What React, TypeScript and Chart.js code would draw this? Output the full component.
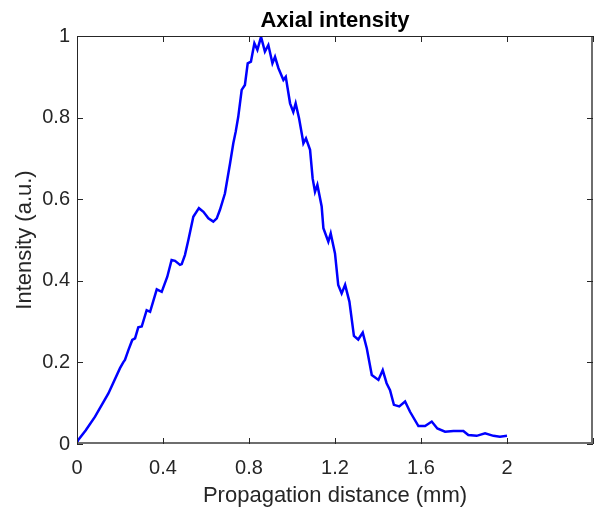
import React, { useEffect, useRef } from "react";
import { Chart, registerables } from "chart.js";

Chart.register(...registerables);

const xValues = [
  0, 0.003, 0.04, 0.084, 0.146, 0.2, 0.215, 0.223, 0.239, 0.257, 0.27, 0.285, 0.301, 0.324, 0.34, 0.371, 0.394,
  0.42, 0.44, 0.456, 0.479, 0.487, 0.502, 0.518, 0.541, 0.567, 0.588, 0.611, 0.634, 0.65, 0.665, 0.688,
  0.712, 0.727, 0.738, 0.75, 0.766, 0.781, 0.794, 0.809, 0.825, 0.839, 0.856, 0.874, 0.89, 0.909,
  0.921, 0.937, 0.96, 0.971, 0.991, 1.006, 1.017, 1.033, 1.048, 1.053, 1.065, 1.084, 1.096, 1.107,
  1.118, 1.138, 1.146, 1.169, 1.18, 1.2, 1.215, 1.231, 1.247, 1.267, 1.288, 1.308, 1.329, 1.348,
  1.371, 1.402, 1.422, 1.44, 1.456, 1.474, 1.499, 1.526, 1.549, 1.588, 1.619, 1.65, 1.676, 1.712,
  1.751, 1.797, 1.82, 1.859, 1.898, 1.937, 1.967, 2.0,
];
const intensity = [
  0.005, 0.008, 0.033, 0.067, 0.124, 0.186, 0.2, 0.206, 0.23, 0.255, 0.259, 0.286, 0.288, 0.328, 0.324, 0.379, 0.373,
  0.41, 0.451, 0.449, 0.439, 0.441, 0.463, 0.5, 0.557, 0.578, 0.569, 0.553, 0.545, 0.553, 0.574, 0.614,
  0.688, 0.737, 0.765, 0.802, 0.868, 0.88, 0.933, 0.937, 0.982, 0.966, 0.998, 0.962, 0.978, 0.933,
  0.949, 0.921, 0.892, 0.9, 0.835, 0.814, 0.835, 0.798, 0.753, 0.737, 0.749, 0.721, 0.651, 0.618,
  0.635, 0.582, 0.529, 0.496, 0.516, 0.467, 0.39, 0.369, 0.39, 0.349, 0.265, 0.256, 0.273, 0.234,
  0.169, 0.157, 0.181, 0.149, 0.132, 0.096, 0.092, 0.104, 0.079, 0.044, 0.044, 0.055, 0.038, 0.03,
  0.032, 0.032, 0.022, 0.02, 0.026, 0.02, 0.018, 0.02,
];
const xTicks = [0, 0.4, 0.8, 1.2, 1.6, 2.0, 2.4];
const yTicks = [0, 0.2, 0.4, 0.6, 0.8, 1];
const titleText = "Axial intensity";
const xLabel = "Propagation distance (mm)";
const yLabel = "Intensity (a.u.)";

const FONT = "'Liberation Sans', Arial, Helvetica, sans-serif";
const AXIS_COLOR = "#262626";

const boxPlugin = {
  id: "matlabBox",
  afterDraw(chart: any) {
    const { ctx, chartArea } = chart;
    const { left, right, top, bottom } = chartArea;
    const xs = chart.scales.x;
    const ys = chart.scales.y;
    ctx.save();
    ctx.strokeStyle = AXIS_COLOR;
    ctx.lineWidth = 1;
    ctx.beginPath();
    ctx.moveTo(left + 0.5, bottom);
    ctx.lineTo(left + 0.5, top + 0.5);
    ctx.lineTo(right, top + 0.5);
    ctx.stroke();
    ctx.strokeStyle = "#6e6e6e";
    ctx.lineWidth = 2;
    ctx.beginPath();
    ctx.moveTo(right - 1, top);
    ctx.lineTo(right - 1, bottom - 1);
    ctx.lineTo(left, bottom - 1);
    ctx.stroke();
    ctx.strokeStyle = AXIS_COLOR;
    ctx.lineWidth = 1;
    const tl = 6;
    ctx.beginPath();
    for (const v of xTicks) {
      const px = Math.round(xs.getPixelForValue(v)) + 0.5;
      ctx.moveTo(px, bottom);
      ctx.lineTo(px, bottom - tl);
      ctx.moveTo(px, top);
      ctx.lineTo(px, top + tl);
    }
    for (const v of yTicks) {
      const py = Math.round(ys.getPixelForValue(v)) + 0.5;
      ctx.moveTo(left, py);
      ctx.lineTo(left + tl, py);
      ctx.moveTo(right, py);
      ctx.lineTo(right - tl, py);
    }
    ctx.stroke();
    ctx.fillStyle = "#000000";
    ctx.font = `bold 22px ${FONT}`;
    ctx.textAlign = "center";
    ctx.textBaseline = "alphabetic";
    ctx.fillText(titleText, (left + right) / 2, 27);
    ctx.restore();
  },
};

export default function App() {
  const canvasRef = useRef<HTMLCanvasElement | null>(null);

  useEffect(() => {
    const canvas = canvasRef.current;
    if (!canvas) return;
    const data = xValues.map((x, i) => ({ x, y: intensity[i] }));
    const chart = new Chart(canvas, {
      type: "line",
      data: {
        datasets: [
          {
            data,
            borderColor: "#0000ff",
            borderWidth: 2.5,
            pointRadius: 0,
            fill: false,
            tension: 0,
          },
        ],
      },
      options: {
        responsive: false,
        animation: false,
        layout: { padding: { left: 0, right: 2, top: 36, bottom: 0 } },
        plugins: {
          legend: { display: false },
          title: { display: false },
          tooltip: { enabled: false },
        },
        scales: {
          x: {
            type: "linear",
            min: 0,
            max: 2.4,
            afterFit(scale: any) {
              scale.height = 68;
              scale.paddingLeft = 0;
              scale.paddingRight = 0;
              scale.paddingTop = 0;
              scale.paddingBottom = 0;
            },
            afterBuildTicks(scale: any) {
              scale.ticks = xTicks.map((v) => ({ value: v }));
            },
            grid: { display: false, drawTicks: false },
            border: { display: false },
            ticks: {
              padding: 12,
              color: AXIS_COLOR,
              font: { family: FONT, size: 20 },
              maxRotation: 0,
              autoSkip: false,
              callback: (v: any) => (Number(v) > 2.2 ? "" : String(Number(Number(v).toFixed(1)))),
            },
            title: {
              display: true,
              text: xLabel,
              color: AXIS_COLOR,
              font: { family: FONT, size: 22 },
              padding: { top: 0, bottom: 3 },
            },
          },
          y: {
            type: "linear",
            min: 0,
            max: 1,
            afterFit(scale: any) {
              scale.width = 77;
              scale.paddingLeft = 0;
              scale.paddingRight = 0;
              scale.paddingTop = 0;
              scale.paddingBottom = 0;
            },
            afterBuildTicks(scale: any) {
              scale.ticks = yTicks.map((v) => ({ value: v }));
            },
            grid: { display: false, drawTicks: false },
            border: { display: false },
            ticks: {
              padding: 7,
              color: AXIS_COLOR,
              font: { family: FONT, size: 20 },
              autoSkip: false,
              callback: (v: any) => String(Number(Number(v).toFixed(1))),
            },
            title: {
              display: true,
              text: yLabel,
              color: AXIS_COLOR,
              font: { family: FONT, size: 22 },
              padding: { top: 12, bottom: 0 },
            },
          },
        },
      },
      plugins: [boxPlugin],
    });
    return () => chart.destroy();
  }, []);

  return (
    <div style={{ position: "absolute", left: 0, top: 0, width: 595, height: 512, background: "#fff" }}>
      <canvas ref={canvasRef} width={595} height={512} />
    </div>
  );
}
